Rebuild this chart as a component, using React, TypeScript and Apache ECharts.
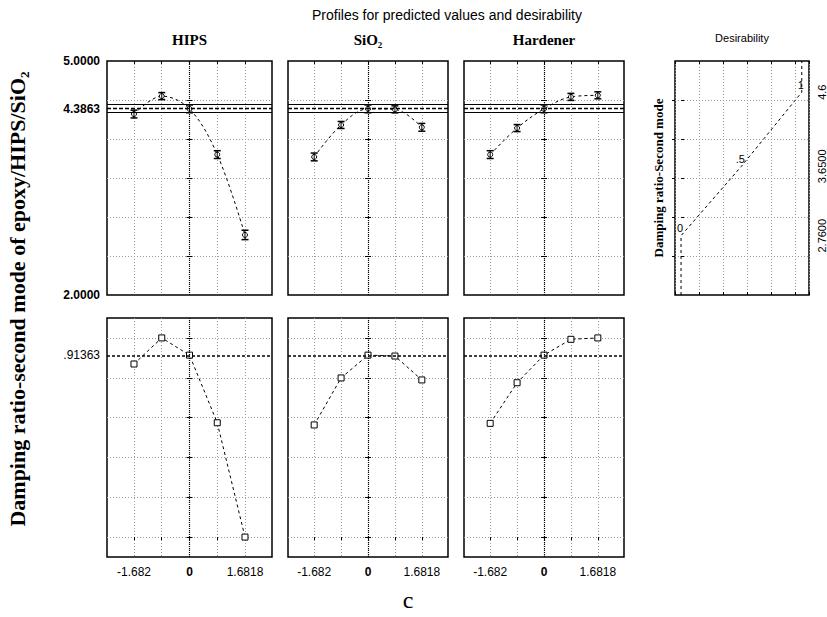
import React, { useEffect, useRef } from 'react';
import * as echarts from 'echarts';

// ---------- data ----------
const factorNames = ['HIPS', 'SiO₂', 'Hardener'];
const factorLevels = [-1.682, -0.841, 0, 0.841, 1.6818];
const factorTickLabels = [-1.682, 0, 1.6818];

const hipsPredicted = [4.32, 4.55, 4.3863, 3.8, 2.77];
const sio2Predicted = [3.77, 4.18, 4.3863, 4.38, 4.15];
const hardenerPredicted = [3.8, 4.14, 4.3863, 4.54, 4.56];

const hipsError = [0.05, 0.045, 0.05, 0.05, 0.06];
const sio2Error = [0.05, 0.045, 0.05, 0.045, 0.05];
const hardenerError = [0.05, 0.045, 0.05, 0.045, 0.045];

const hipsDesirability = [0.869, 1.0, 0.91363, 0.574, 0.0];
const sio2Desirability = [0.563, 0.799, 0.91363, 0.909, 0.789];
const hardenerDesirability = [0.571, 0.775, 0.91363, 0.993, 1.0];

const currentPredicted = 4.3863;
const currentHalfCI = 0.05;
const currentDesirability = 0.91363;

const responseGridTicks = [2.5, 3, 3.5, 4, 4.5];
const responseAxisLabels = [2, 4.3863, 5];
const desirabilityGridTicks = [0, 0.2, 0.4, 0.6, 0.8, 1.0];
const desirabilityAxisLabels = [0.91363];

// desirability function (response -> desirability)
const desFnDesirability = [0, 0, 0.5, 1, 1];
const desFnResponse = [2, 2.76, 3.65, 4.6, 5];
const desFnPointD = [0, 0.5, 1];
const desFnPointResp = [2.76, 3.65, 4.6];
const desFnPointLabels = ['0', '.5', '1'];
const desFnAxisValues = [2.76, 3.65, 4.6];
const desFnAxisLabels = ['2.7600', '3.6500', '4.6'];

const predicted = [hipsPredicted, sio2Predicted, hardenerPredicted];
const errors = [hipsError, sio2Error, hardenerError];
const desirabilities = [hipsDesirability, sio2Desirability, hardenerDesirability];

// ---------- layout ----------
const SANS = 'Liberation Sans, Arial, sans-serif';
const SERIF = 'Liberation Serif, Times New Roman, serif';
const colLeft = [107, 288, 464];
const colWidth = [165, 160, 160];
const topRow = { top: 61, height: 234 };
const botRow = { top: 318, height: 239 };
const desGrid = { left: 675, top: 61, width: 134, height: 234 };

const gridLine = { show: true, lineStyle: { color: '#9a9a9a', type: [1, 2] as any, width: 1 } };
const insideTick = (vals: number[] | undefined) => ({
  show: true,
  inside: true,
  length: 3,
  ...(vals ? { customValues: vals } : {}),
  lineStyle: { color: '#000', width: 1 },
});

function buildOption() {
  const grids: any[] = [];
  const xAxes: any[] = [];
  const yAxes: any[] = [];
  const series: any[] = [];

  const addGrid = (g: any) => {
    grids.push({
      ...g,
      show: true,
      borderColor: '#000',
      borderWidth: 1.5,
      backgroundColor: '#fff',
      containLabel: false,
    });
    return grids.length - 1;
  };

  for (let row = 0; row < 2; row++) {
    for (let f = 0; f < 3; f++) {
      const rowGeom = row === 0 ? topRow : botRow;
      const gi = addGrid({ left: colLeft[f], width: colWidth[f], top: rowGeom.top, height: rowGeom.height });
      const isTop = row === 0;
      const yMin = isTop ? 2 : -0.1;
      const yMax = isTop ? 5 : 1.1;
      const yTicks = isTop ? responseGridTicks : desirabilityGridTicks;

      const xi = xAxes.length;
      xAxes.push({
        gridIndex: gi,
        type: 'value',
        min: -2.5,
        max: 2.5,
        position: 'bottom',
        axisLine: { show: false },
        axisTick: { show: false, customValues: factorLevels },
        splitLine: gridLine,
        axisLabel: isTop
          ? { show: false }
          : {
              show: true,
              customValues: factorTickLabels,
              margin: 9,
              fontSize: 12,
              fontFamily: SANS,
              color: '#000',
              formatter: (v: number) => (v === 0 ? '{b|0}' : String(v)),
              rich: { b: { fontWeight: 'bold', fontSize: 12, fontFamily: SANS, color: '#000' } },
            },
      });
      xAxes.push({
        gridIndex: gi,
        type: 'value',
        min: -2.5,
        max: 2.5,
        position: 'top',
        axisLine: { show: false },
        axisTick: insideTick(factorLevels),
        axisLabel: { show: false },
        splitLine: { show: false },
      });
      const yi = yAxes.length;
      const showLabels = f === 0;
      yAxes.push({
        gridIndex: gi,
        type: 'value',
        min: yMin,
        max: yMax,
        position: 'left',
        axisLine: { show: false },
        axisTick: insideTick(yTicks),
        splitLine: gridLine,
        axisLabel: showLabels
          ? {
              show: true,
              customValues: isTop ? responseAxisLabels : desirabilityAxisLabels,
              margin: 7,
              fontSize: 12,
              fontFamily: SANS,
              fontWeight: isTop ? 'bold' : 'normal',
              color: '#000',
              formatter: isTop ? (v: number) => v.toFixed(4) : (v: number) => String(v).replace(/^0/, ''),
            }
          : { show: false },
      });
      yAxes.push({
        gridIndex: gi,
        type: 'value',
        min: yMin,
        max: yMax,
        position: 'right',
        axisLine: { show: false },
        axisTick: insideTick(yTicks),
        splitLine: { show: false },
        axisLabel: { show: false },
      });

      if (isTop) {
        series.push({
          type: 'line',
          xAxisIndex: xi,
          yAxisIndex: yi,
          data: factorLevels.map((x, i) => [x, predicted[f][i]]),
          smooth: 0.35,
          symbol: 'circle',
          symbolSize: 5,
          lineStyle: { color: '#000', width: 1, type: [3, 3] },
          itemStyle: { color: '#fff', borderColor: '#000', borderWidth: 1 },
          z: 3,
          markLine: {
            silent: true,
            symbol: ['none', 'none'],
            label: { show: false },
            data: [
              { yAxis: currentPredicted, lineStyle: { color: '#000', width: 1.3, type: [4, 2] } },
              { yAxis: currentPredicted - currentHalfCI, lineStyle: { color: '#000', width: 1, type: 'solid' } },
              { yAxis: currentPredicted + currentHalfCI, lineStyle: { color: '#000', width: 1, type: 'solid' } },
              { xAxis: 0, lineStyle: { color: '#000', width: 1.2, type: [1, 1] } },
            ],
          },
        });
        series.push({
          type: 'custom',
          xAxisIndex: xi,
          yAxisIndex: yi,
          z: 4,
          itemStyle: { color: '#000' },
          encode: { x: 0, y: [1, 2] },
          data: factorLevels.map((x, i) => [x, predicted[f][i] - errors[f][i], predicted[f][i] + errors[f][i]]),
          renderItem: (params: any, api: any) => {
            const x = api.value(0);
            const lo = api.coord([x, api.value(1)]);
            const hi = api.coord([x, api.value(2)]);
            const w = 3.5;
            return {
              type: 'group',
              children: [
                { type: 'line', shape: { x1: lo[0], y1: lo[1], x2: hi[0], y2: hi[1] }, style: { stroke: '#000', lineWidth: 1 } },
                { type: 'line', shape: { x1: lo[0] - w, y1: lo[1], x2: lo[0] + w, y2: lo[1] }, style: { stroke: '#000', lineWidth: 1.5 } },
                { type: 'line', shape: { x1: hi[0] - w, y1: hi[1], x2: hi[0] + w, y2: hi[1] }, style: { stroke: '#000', lineWidth: 1.5 } },
              ],
            };
          },
        });
      } else {
        series.push({
          type: 'line',
          xAxisIndex: xi,
          yAxisIndex: yi,
          data: factorLevels.map((x, i) => [x, desirabilities[f][i]]),
          smooth: false,
          symbol: 'rect',
          symbolSize: 6,
          lineStyle: { color: '#000', width: 1, type: [3, 3] },
          itemStyle: { color: '#fff', borderColor: '#000', borderWidth: 1 },
          z: 3,
          markLine: {
            silent: true,
            symbol: ['none', 'none'],
            label: { show: false },
            data: [
              { yAxis: currentDesirability, lineStyle: { color: '#000', width: 1.5, type: [3, 2] } },
              { xAxis: 0, lineStyle: { color: '#000', width: 1.2, type: [1, 1] } },
            ],
          },
        });
      }
    }
  }

  // desirability function panel
  const dg = addGrid({ ...desGrid });
  const dxData = xAxes.length;
  xAxes.push({ gridIndex: dg, type: 'value', min: -0.05, max: 1.06, show: false });
  xAxes.push({
    gridIndex: dg,
    type: 'value',
    min: 0,
    max: 1.11,
    interval: 0.2,
    position: 'top',
    axisLine: { show: false },
    axisTick: insideTick(undefined),
    axisLabel: { show: false },
    splitLine: gridLine,
  });
  xAxes.push({
    gridIndex: dg,
    type: 'value',
    min: 0,
    max: 1.11,
    interval: 0.2,
    position: 'bottom',
    axisLine: { show: false },
    axisTick: insideTick(undefined),
    axisLabel: { show: false },
    splitLine: { show: false },
  });
  const dyLeft = yAxes.length;
  yAxes.push({
    gridIndex: dg,
    type: 'value',
    min: 2,
    max: 5,
    position: 'left',
    axisLine: { show: false },
    axisTick: insideTick(responseGridTicks),
    splitLine: gridLine,
    axisLabel: { show: false },
    name: 'Damping ratio-Second mode',
    nameLocation: 'middle',
    nameRotate: 90,
    nameGap: 10,
    nameTextStyle: { fontFamily: SERIF, fontWeight: 'bold', fontSize: 13, color: '#000' },
  });
  yAxes.push({
    gridIndex: dg,
    type: 'value',
    min: 2,
    max: 5,
    position: 'right',
    axisLine: { show: false },
    axisTick: insideTick(responseGridTicks),
    splitLine: { show: false },
    axisLabel: {
      show: true,
      customValues: desFnAxisValues,
      rotate: 90,
      margin: 7,
      align: 'center',
      verticalAlign: 'top',
      fontSize: 11,
      fontFamily: SANS,
      color: '#000',
      formatter: (v: number) => {
        const i = desFnAxisValues.indexOf(v);
        return i >= 0 ? desFnAxisLabels[i] : '';
      },
    },
  });
  series.push({
    type: 'line',
    xAxisIndex: dxData,
    yAxisIndex: dyLeft,
    data: desFnDesirability.map((d, i) => [d, desFnResponse[i]]),
    symbol: 'none',
    lineStyle: { color: '#000', width: 1, type: [3, 3] },
    z: 3,
  });
  series.push({
    type: 'custom',
    xAxisIndex: dxData,
    yAxisIndex: dyLeft,
    z: 4,
    colorBy: 'series',
    itemStyle: { color: '#000' },
    encode: { x: 0, y: 1 },
    data: desFnPointD.map((d, i) => [d, desFnPointResp[i]]),
    renderItem: (params: any, api: any) => {
      const p = api.coord([api.value(0), api.value(1)]);
      return {
        type: 'text',
        x: p[0] - 1,
        y: p[1] - 2,
        style: {
          text: desFnPointLabels[params.dataIndex],
          fill: '#000',
          stroke: 'none',
          lineWidth: 0,
          fontSize: 11,
          fontFamily: SANS,
          align: 'center',
          verticalAlign: 'bottom',
        },
      };
    },
  });

  const colCenters = colLeft.map((l, i) => l + colWidth[i] / 2);
  const graphic: any[] = [
    {
      type: 'text',
      x: 447,
      y: 15,
      style: { text: 'Profiles for predicted values and desirability', fontSize: 14, fontFamily: SANS, fill: '#000', align: 'center', verticalAlign: 'middle' },
    },
    ...factorNames.map((n, i) => ({
      type: 'text',
      x: colCenters[i],
      y: 40,
      style: { text: n, fontSize: 15, fontWeight: 'bold', fontFamily: SERIF, fill: '#000', align: 'center', verticalAlign: 'middle' },
    })),
    {
      type: 'text',
      x: desGrid.left + desGrid.width / 2,
      y: 38,
      style: { text: 'Desirability', fontSize: 11, fontFamily: SANS, fill: '#000', align: 'center', verticalAlign: 'middle' },
    },
    {
      type: 'text',
      x: 17,
      y: 299,
      rotation: Math.PI / 2,
      style: { text: 'Damping ratio-second mode of epoxy/HIPS/SiO₂', fontSize: 22, fontWeight: 'bold', fontFamily: SERIF, fill: '#000', align: 'center', verticalAlign: 'middle' },
    },
    {
      type: 'text',
      x: 408,
      y: 600,
      style: { text: 'c', fontSize: 24, fontFamily: SERIF, fill: '#000', align: 'center', verticalAlign: 'middle' },
    },
  ];

  return {
    animation: false,
    backgroundColor: '#fff',
    grid: grids,
    xAxis: xAxes,
    yAxis: yAxes,
    series,
    graphic,
  };
}

export default function App() {
  const ref = useRef<HTMLDivElement>(null);
  useEffect(() => {
    if (!ref.current) return;
    const chart = echarts.init(ref.current, undefined, { renderer: 'svg' });
    chart.setOption(buildOption() as any);
    return () => chart.dispose();
  }, []);
  return (
    <div
      ref={ref}
      style={{ position: 'absolute', left: 0, top: 0, width: 827, height: 617, background: '#fff' }}
    />
  );
}
